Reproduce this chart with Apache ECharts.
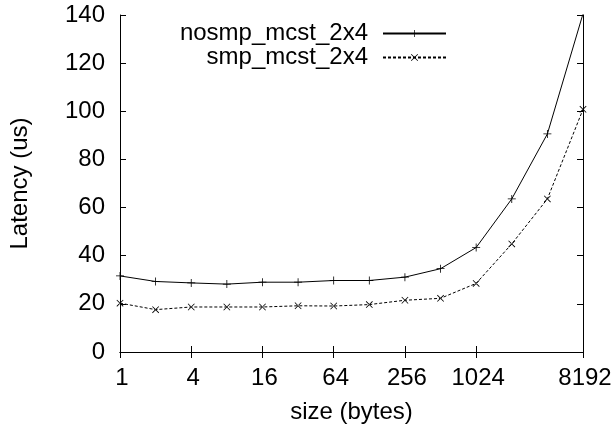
<!DOCTYPE html>
<html>
<head>
<meta charset="utf-8">
<script src="https://cdn.jsdelivr.net/npm/echarts@6/dist/echarts.min.js"></script>
<style>
  html, body { margin: 0; padding: 0; background: #fff; }
  #chart { width: 615px; height: 429px; }
</style>
</head>
<body>
<div id="chart"></div>
<script>
// message sizes (bytes), log2-spaced
const sizes = ['1','2','4','8','16','32','64','128','256','512','1024','2048','4096','8192'];
// tick labels shown on the x axis
const xTickLabels = ['1','4','16','64','256','1024','8192'];
// latency (us)
const nosmp = [31.6, 29.3, 28.7, 28.2, 29.0, 29.0, 29.7, 29.7, 31.1, 34.6, 43.4, 63.6, 90.6, 140.5];
const smp   = [20.3, 17.6, 18.7, 18.7, 18.7, 19.2, 19.1, 19.7, 21.5, 22.3, 28.5, 44.9, 63.6, 100.8];
const seriesNames = ['nosmp_mcst_2x4', 'smp_mcst_2x4'];
const yTicks = { min: 0, max: 140, interval: 20 };

const FONT = 'Liberation Sans, Arial, Helvetica, sans-serif';
const FS = 24;
const showTick = function (idx, val) { return xTickLabels.indexOf(sizes[idx]) >= 0; };

const plusSym = 'path://M0,4.5h10v1h-10zM4.5,0h1v10h-1z';
const crossSym = 'path://M0,0.8L0.8,0L10,9.2L9.2,10zM10,0.8L9.2,0L0,9.2L0.8,10z';

const chart = echarts.init(document.getElementById('chart'), null, { renderer: 'canvas' });

const legendBase = {
  orient: 'horizontal',
  align: 'right',
  right: 168,
  padding: 0,
  itemWidth: 63,
  itemHeight: 9,
  textStyle: { fontFamily: FONT, fontSize: FS, color: '#000', lineHeight: 25, padding: [0, 10, 0, 0] },
  inactiveColor: '#000'
};

chart.setOption({
  animation: false,
  backgroundColor: '#fff',
  grid: { left: 118, right: 32, top: 15, bottom: 77, containLabel: false },
  legend: [
    Object.assign({}, legendBase, { top: 21, data: [seriesNames[0]] }),
    Object.assign({}, legendBase, { top: 45, data: [seriesNames[1]] })
  ],
  xAxis: [
    {
      type: 'category',
      data: sizes,
      boundaryGap: false,
      position: 'bottom',
      name: 'size (bytes)',
      nameLocation: 'middle',
      nameGap: 48,
      nameTextStyle: { fontFamily: FONT, fontSize: FS, color: '#000' },
      axisLine: { show: true, lineStyle: { color: '#000', width: 1 } },
      axisTick: { show: true, inside: true, length: 6, interval: showTick, lineStyle: { color: '#000' } },
      axisLabel: { show: true, interval: showTick, margin: 14, padding: [0, 0, 0, 4], fontFamily: FONT, fontSize: FS, color: '#000' },
      splitLine: { show: false }
    },
    {
      type: 'category',
      data: sizes,
      boundaryGap: false,
      position: 'top',
      axisLine: { show: true, lineStyle: { color: '#000', width: 1 } },
      axisTick: { show: true, inside: true, length: 6, interval: showTick, lineStyle: { color: '#000' } },
      axisLabel: { show: false },
      splitLine: { show: false }
    }
  ],
  yAxis: [
    {
      type: 'value',
      min: yTicks.min, max: yTicks.max, interval: yTicks.interval,
      position: 'left',
      name: 'Latency (us)',
      nameLocation: 'middle',
      nameGap: 88,
      nameTextStyle: { fontFamily: FONT, fontSize: FS, color: '#000' },
      axisLine: { show: true, lineStyle: { color: '#000', width: 1 } },
      axisTick: { show: true, inside: true, length: 6, lineStyle: { color: '#000' } },
      axisLabel: { margin: 15, fontFamily: FONT, fontSize: FS, color: '#000' },
      splitLine: { show: false }
    },
    {
      type: 'value',
      min: yTicks.min, max: yTicks.max, interval: yTicks.interval,
      position: 'right',
      axisLine: { show: true, lineStyle: { color: '#000', width: 1 } },
      axisTick: { show: true, inside: true, length: 6, lineStyle: { color: '#000' } },
      axisLabel: { show: false },
      splitLine: { show: false }
    }
  ],
  series: [
    {
      name: seriesNames[0],
      type: 'line',
      data: nosmp,
      xAxisIndex: 0, yAxisIndex: 0,
      clip: true,
      symbol: plusSym,
      symbolSize: 8,
      showAllSymbol: true,
      lineStyle: { color: '#000', width: 1, type: 'solid' },
      itemStyle: { color: '#000', borderWidth: 0 },
      emphasis: { disabled: true }
    },
    {
      name: seriesNames[1],
      type: 'line',
      data: smp,
      xAxisIndex: 0, yAxisIndex: 0,
      clip: true,
      symbol: crossSym,
      symbolSize: 7,
      showAllSymbol: true,
      lineStyle: { color: '#000', width: 1, type: [3, 2] },
      itemStyle: { color: '#000', borderWidth: 0 },
      emphasis: { disabled: true }
    }
  ]
});
</script>
</body>
</html>
